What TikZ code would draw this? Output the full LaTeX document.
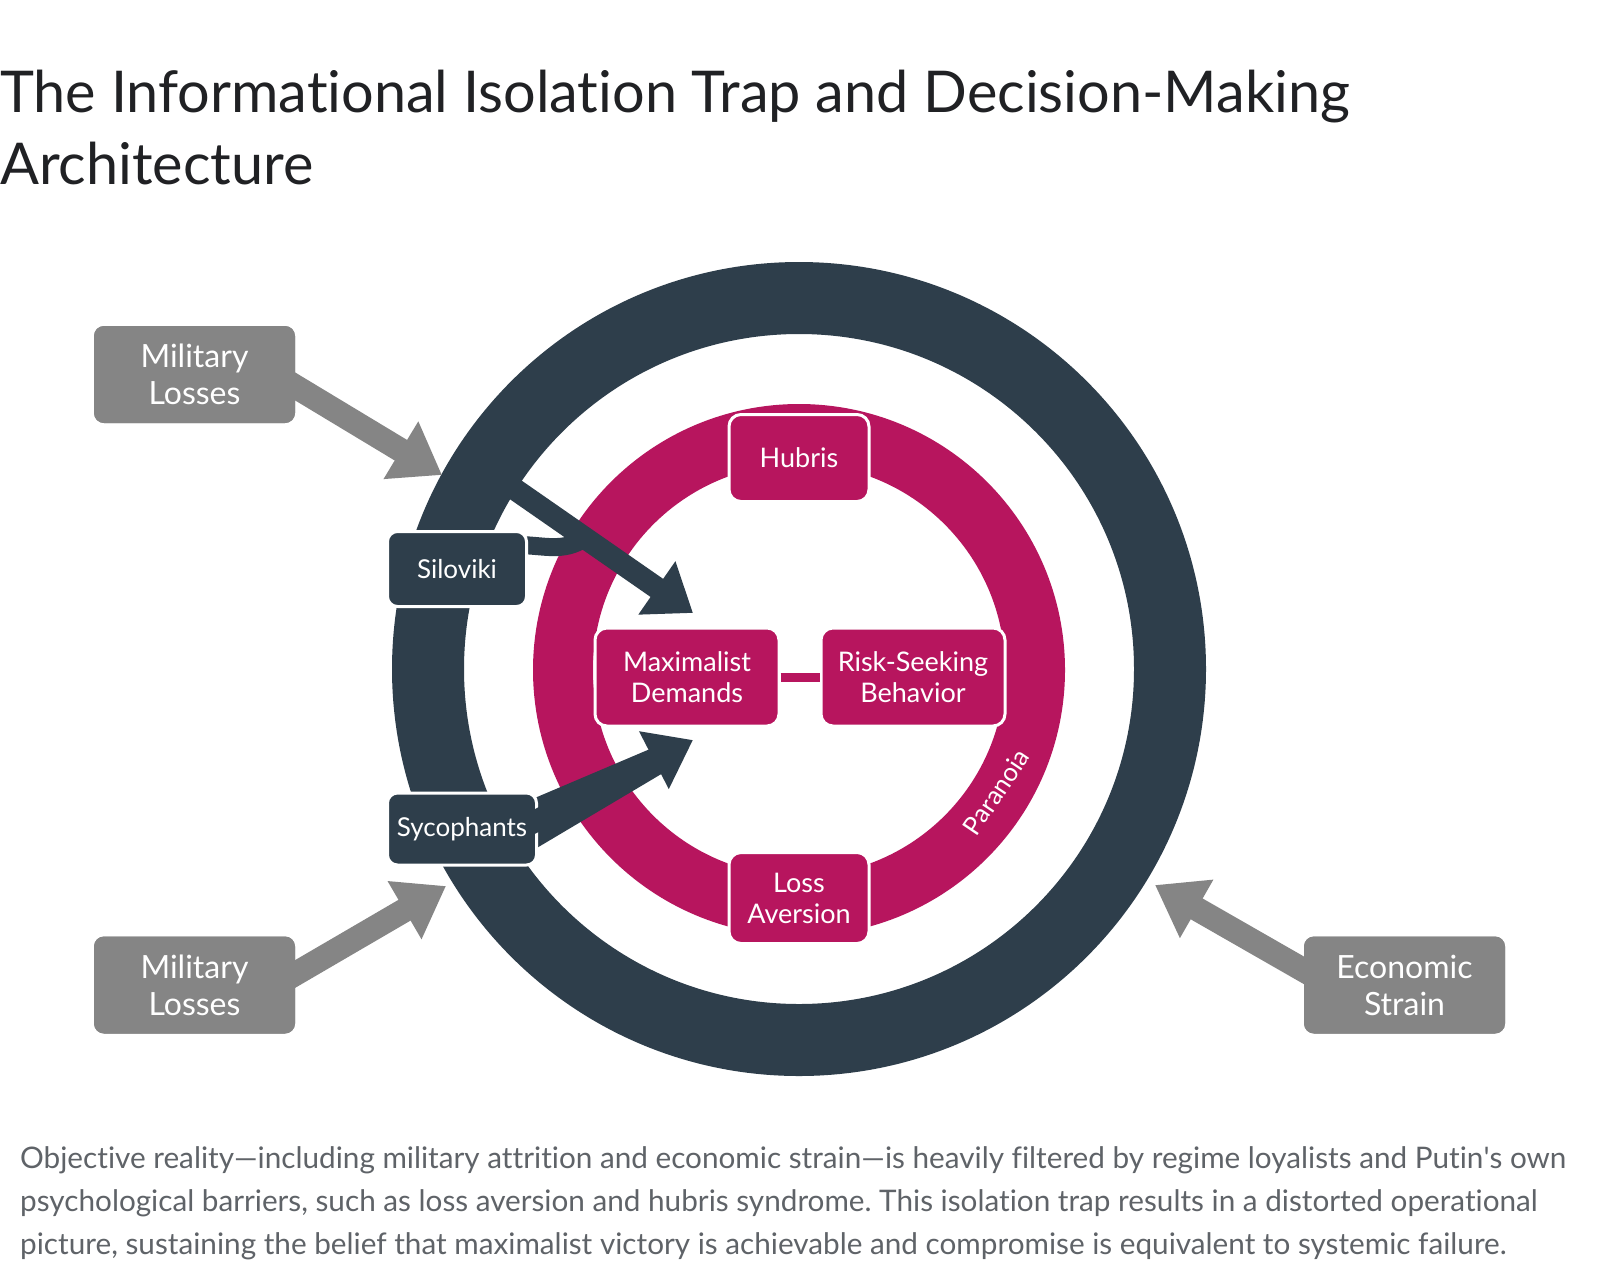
\documentclass[tikz,border=0pt]{standalone}
\usepackage{fontspec}
\setmainfont[Ligatures=NoCommon]{Lato}
\usetikzlibrary{arrows.meta}
\definecolor{darkc}{RGB}{46,62,75}
\definecolor{pinkc}{RGB}{183,21,94}
\definecolor{grayc}{RGB}{133,133,133}
\definecolor{capc}{RGB}{95,99,104}
\definecolor{titlec}{RGB}{32,33,36}
\frenchspacing
\begin{document}
\begin{tikzpicture}[x=1pt,y=-1pt,
 graybox/.style={fill=grayc, rounded corners=10pt, minimum width=201pt, minimum height=97pt, text=white, align=center, font=\fontsize{32}{37}\selectfont, inner sep=0pt},
 darkbox/.style={fill=darkc, draw=white, line width=3pt, rounded corners=10pt, text=white, align=center, font=\fontsize{26}{30}\selectfont, inner sep=0pt},
 pinkbox/.style={fill=pinkc, draw=white, line width=3pt, rounded corners=12pt, text=white, align=center, font=\fontsize{27}{31}\selectfont, inner sep=0pt},
 grayarrow/.style={draw=grayc, line width=24pt, -{Triangle[length=48pt,width=64pt]}},
 darkarrow/.style={draw=darkc, line width=22pt, -{Triangle[length=44pt,width=62pt]}},
 titletext/.style={anchor=base west, inner sep=0pt, text=titlec, font=\fontsize{57.6}{72}\selectfont},
 captext/.style={anchor=base west, inner sep=0pt, text=capc, font=\fontsize{29.7}{43}\selectfont}
]
\useasboundingbox (0,0) rectangle (1600,1278);
\fill[white] (0,0) rectangle (1600,1278);

% title
\node[titletext] (t1) at (0,112) {The Informational Isolation Trap and Decision-Making};
\node[titletext] (t2) at (0,184) {Architecture};

% rings
\draw[darkc, line width=72pt] (799,669) circle[radius=371pt];
\draw[pinkc, line width=60pt] (799,670) circle[radius=236pt];

% outer boxes
\node[graybox] (ml1) at (194.5,374.5) {Military\\Losses};
\node[graybox] (ml2) at (194.5,985) {Military\\Losses};
\node[graybox] (es) at (1404.5,985) {Economic\\Strain};

% tips
\coordinate (tp1) at (442,475);
\coordinate (tp2) at (446,886);
\coordinate (tp3) at (1155,885);
\coordinate (r1) at (490,472);
\coordinate (tsil) at (693,613);
\coordinate (tsyc) at (693,740);

% gray arrows (drawn behind boxes)
\draw[grayarrow] (ml1.center) ++(56,-15) -- (tp1);
\draw[grayarrow] (ml2.center) ++(56,15) -- (tp2);
\draw[grayarrow] (es.center) ++(-54,12) -- (tp3);
\node[graybox] at (ml1) {Military\\Losses};
\node[graybox] at (ml2) {Military\\Losses};
\node[graybox] at (es) {Economic\\Strain};

% dark arrows
\draw[darkarrow] (r1) -- (tsil);
\draw[darkc, line width=18pt] (517,545) to[out=0,in=214] (585,538);
\fill[darkc] (530,800) -- (650,749) -- (663,773) -- (530,852) -- cycle;

% inner boxes
\node[darkbox, minimum width=139pt, minimum height=75pt] (sil) at (457,569) {Siloviki};
\node[darkbox, minimum width=149pt, minimum height=72pt] (syc) at (462,829) {Sycophants};
\draw[darkarrow] (syc.east) ++(-10,-4) -- (tsyc);

\draw[white, line width=15pt] (779,676) -- (821,676);
\node[pinkbox, minimum width=140pt, minimum height=87pt] (hub) at (799,458) {Hubris};
\node[pinkbox, minimum width=140pt, minimum height=91pt] (la) at (799,898) {Loss\\Aversion};
\node[pinkbox, minimum width=184pt, minimum height=98pt] (md) at (687,677) {Maximalist\\Demands};
\node[pinkbox, minimum width=184pt, minimum height=98pt] (rs) at (913,677) {Risk-Seeking\\Behavior};
\draw[pinkc, line width=9pt] (md.east) -- (rs.west);

\node[rotate=56, text=white, inner sep=0pt, font=\fontsize{25.5}{28}\selectfont] (par) at (996,792) {Paranoia};

% caption
\node[captext] (c1) at (20,1168) {Objective reality—including military attrition and economic strain—is heavily filtered by regime loyalists and Putin\textquotesingle s own};
\node[captext] (c2) at (20,1211) {psychological barriers, such as loss aversion and hubris syndrome. This isolation trap results in a distorted operational};
\node[captext] (c3) at (20,1254) {picture, sustaining the belief that maximalist victory is achievable and compromise is equivalent to systemic failure.};
\end{tikzpicture}
\end{document}
